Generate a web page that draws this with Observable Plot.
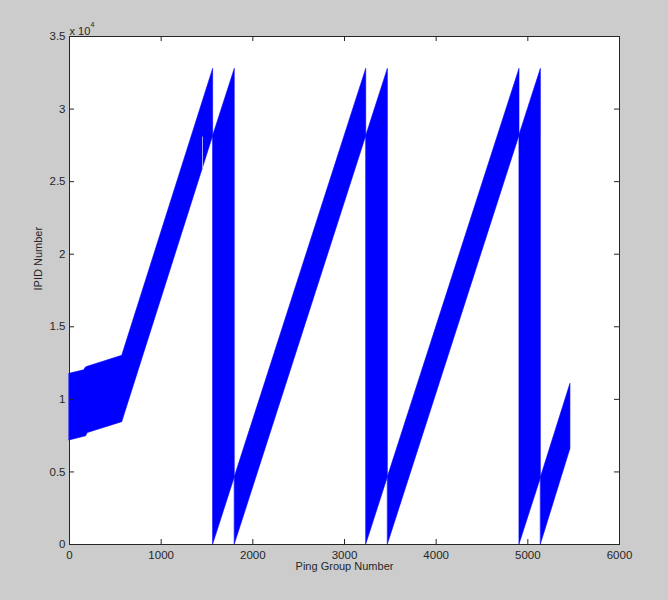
<!DOCTYPE html>
<html>
<head>
<meta charset="utf-8">
<script src="https://cdn.jsdelivr.net/npm/d3@7"></script>
<script src="https://cdn.jsdelivr.net/npm/@observablehq/plot@0.6"></script>
<style>
  html, body { margin: 0; padding: 0; background: #cccccc; }
  #chart { width: 668px; height: 600px; }
</style>
</head>
<body>
<div id="chart"></div>
<script>
// Envelope of the interleaved IPID sequences (the zig-zag line fills the band between them)
const bandPing    = [0, 160, 180, 200, 575, 1567,   1567, 1803,   1803, 3237,   3237, 3473,   3473, 4909,   4909, 5142,   5142, 5465];
const bandLow     = [7170, 7420, 7450, 7680, 8430, 28140,   0, 4630,   0, 28140,   0, 4630,   0, 28170,   0, 4570,   0, 6590];
const bandHigh    = [11760, 12000, 12200, 12250, 13000, 32768,   28140, 32768,   4630, 32768,   28140, 32768,   4630, 32768,   28200, 32768,   4600, 11070];
const bandSegment = [0, 0, 0, 0, 0, 0,   1, 1,   2, 2,   3, 3,   4, 4,   5, 5,   6, 6];

// thin light gap inside the first rising band
const gapPing = [1451];
const gapLow  = [25800];
const gapHigh = [28070];

// axes
const xTicks = [0, 1000, 2000, 3000, 4000, 5000, 6000];
const xTickLabels = ["0", "1000", "2000", "3000", "4000", "5000", "6000"];
const yTicks = [0, 5000, 10000, 15000, 20000, 25000, 30000, 35000];
const yTickLabels = ["0", "0.5", "1", "1.5", "2", "2.5", "3", "3.5"];
const xTitle = "Ping Group Number";
const yTitle = "IPID Number";
const exponentBase = "x 10";
const exponentPower = "4";

const band = bandPing.map((p, i) => ({ping: p, low: bandLow[i], high: bandHigh[i], seg: bandSegment[i]}));
const gaps = gapPing.map((p, i) => ({ping: p, low: gapLow[i], high: gapHigh[i]}));

const W = 668, H = 600, mL = 69, mR = 49, mT = 36, mB = 56;
const plotW = W - mL - mR, plotH = H - mT - mB;
const tickLen = 5;
const axisColor = "#262626";
const font = "'Liberation Sans', Arial, Helvetica, sans-serif";

const chart = Plot.plot({
  width: W,
  height: H,
  marginLeft: mL,
  marginRight: mR,
  marginTop: mT,
  marginBottom: mB,
  style: {background: "#cccccc", fontFamily: font, fontSize: "11px", color: axisColor},
  x: {domain: [0, 6000]},
  y: {domain: [0, 35000]},
  marks: [
    Plot.frame({fill: "white", stroke: "none"}),
    Plot.areaY(band, {x: "ping", y1: "low", y2: "high", z: "seg", fill: "#0000ff", stroke: "#0000ff", strokeWidth: 0.6}),
    Plot.ruleX(gaps, {x: "ping", y1: "low", y2: "high", stroke: "#a4a4ff", strokeWidth: 1}),
    // inward tick marks on all four sides
    Plot.ruleX(xTicks, {x: d => d, insetTop: plotH - tickLen, stroke: axisColor}),
    Plot.ruleX(xTicks, {x: d => d, insetBottom: plotH - tickLen, stroke: axisColor}),
    Plot.ruleY(yTicks, {y: d => d, insetRight: plotW - tickLen, stroke: axisColor}),
    Plot.ruleY(yTicks, {y: d => d, insetLeft: plotW - tickLen, stroke: axisColor}),
    Plot.frame({stroke: axisColor}),
    Plot.axisX(xTicks, {tickSize: 0, tickPadding: 6, label: null, fontSize: 11.5, fill: axisColor,
      tickFormat: d => xTickLabels[xTicks.indexOf(d)]}),
    Plot.axisY(yTicks, {tickSize: 0, tickPadding: 4, label: null, fontSize: 11.5, fill: axisColor,
      tickFormat: d => yTickLabels[yTicks.indexOf(d)]}),
    Plot.text([xTitle], {text: d => d, frameAnchor: "bottom", dy: 25, fontSize: 11, fill: axisColor}),
    Plot.text([yTitle], {text: d => d, frameAnchor: "left", rotate: -90, dx: -31, fontSize: 11, fill: axisColor}),
    Plot.text([exponentBase], {text: d => d, frameAnchor: "top-left", textAnchor: "start", dy: -9, fontSize: 11, fill: axisColor}),
    Plot.text([exponentPower], {text: d => d, frameAnchor: "top-left", textAnchor: "start", dx: 21, dy: -14, fontSize: 7, fill: axisColor})
  ]
});

document.getElementById("chart").appendChild(chart);
</script>
</body>
</html>
